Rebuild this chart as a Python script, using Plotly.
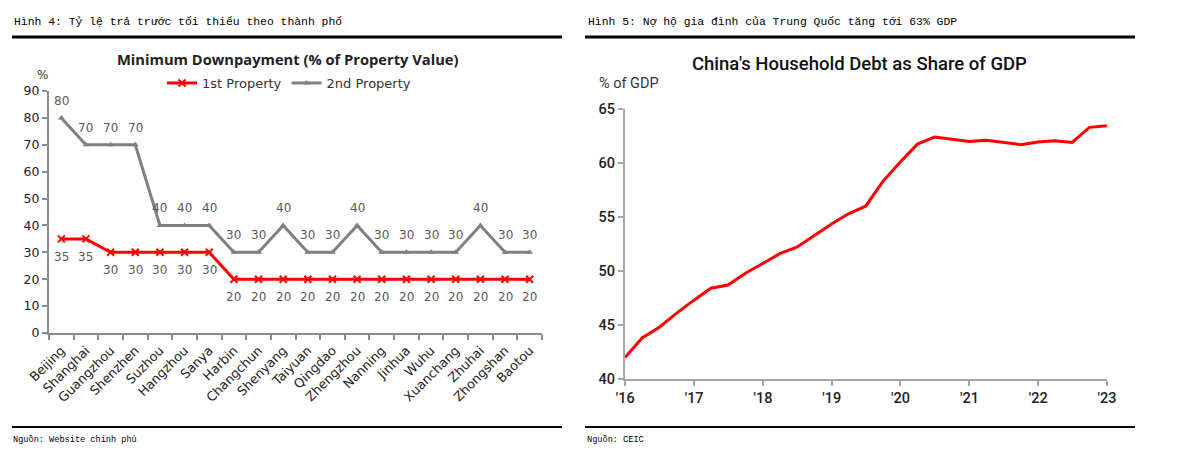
import unicodedata
import plotly.graph_objects as go

# ---------------- data ----------------
cities = ["Beijing", "Shanghai", "Guangzhou", "Shenzhen", "Suzhou", "Hangzhou", "Sanya",
          "Harbin", "Changchun", "Shenyang", "Taiyuan", "Qingdao", "Zhengzhou", "Nanning",
          "Jinhua", "Wuhu", "Xuanchang", "Zhuhai", "Zhongshan", "Baotou"]
first_property = [35, 35, 30, 30, 30, 30, 30, 20, 20, 20, 20, 20, 20, 20, 20, 20, 20, 20, 20, 20]
second_property = [80, 70, 70, 70, 40, 40, 40, 30, 30, 40, 30, 30, 40, 30, 30, 30, 30, 40, 30, 30]
left_yticks = [0, 10, 20, 30, 40, 50, 60, 70, 80, 90]

quarters = ["2015-12-31",
            "2016-03-31", "2016-06-30", "2016-09-30", "2016-12-31",
            "2017-03-31", "2017-06-30", "2017-09-30", "2017-12-31",
            "2018-03-31", "2018-06-30", "2018-09-30", "2018-12-31",
            "2019-03-31", "2019-06-30", "2019-09-30", "2019-12-31",
            "2020-03-31", "2020-06-30", "2020-09-30", "2020-12-31",
            "2021-03-31", "2021-06-30", "2021-09-30", "2021-12-31",
            "2022-03-31", "2022-06-30", "2022-09-30", "2022-12-31"]
household_debt = [42.0, 43.8, 44.8, 46.1, 47.3, 48.4, 48.7, 49.8, 50.7, 51.6, 52.2, 53.3,
                  54.35, 55.3, 56.0, 58.3, 60.1, 61.75, 62.4, 62.2, 62.0, 62.1, 61.9, 61.7,
                  61.95, 62.05, 61.9, 63.3, 63.45]
year_ticks = ["2016-01-01", "2017-01-01", "2018-01-01", "2019-01-01", "2020-01-01",
              "2021-01-01", "2022-01-01", "2023-01-01"]
year_labels = ["'16", "'17", "'18", "'19", "'20", "'21", "'22", "'23"]
right_yticks = [40, 45, 50, 55, 60, 65]

caption_left = unicodedata.normalize("NFC", "Hình 4: Tỷ lệ trả trước tối thiểu theo thành phố")
caption_right = unicodedata.normalize("NFC", "Hình 5: Nợ hộ gia đình của Trung Quốc tăng tới 63% GDP")
source_left = unicodedata.normalize("NFC", "Nguồn: Website chính phủ")
source_right = unicodedata.normalize("NFC", "Nguồn: CEIC")

# ---------------- layout helpers ----------------
W, H = 1178, 458
def px(x):
    return x / W
def py(y):
    return 1 - y / H

RED = "#FF0000"
GRAY = "#808080"
LBL = "#595959"
FONT = "DejaVu Sans"
MONO = "Liberation Mono"

fig = go.Figure()

fig.add_trace(go.Scatter(
    x=cities, y=first_property, name="1st Property", mode="lines+markers",
    line=dict(color=RED, width=3), marker=dict(symbol="x-thin", size=7,
    line=dict(color=RED, width=2)), xaxis="x", yaxis="y"))
fig.add_trace(go.Scatter(
    x=cities, y=second_property, name="2nd Property", mode="lines+markers",
    line=dict(color=GRAY, width=3), marker=dict(symbol="triangle-up", size=6, color=GRAY),
    xaxis="x", yaxis="y"))

fig.add_trace(go.Scatter(
    x=quarters, y=household_debt, mode="lines", showlegend=False,
    line=dict(color=RED, width=3), xaxis="x2", yaxis="y2"))

annotations = []
for c, v in zip(cities, first_property):
    annotations.append(dict(x=c, y=v, xref="x", yref="y", text=str(v), showarrow=False,
                            yshift=-18, font=dict(family=FONT, size=12, color=LBL)))
for c, v in zip(cities, second_property):
    annotations.append(dict(x=c, y=v, xref="x", yref="y", text=str(v), showarrow=False,
                            yshift=17, font=dict(family=FONT, size=12, color=LBL)))

# captions / titles / sources
annotations += [
    dict(x=px(12), y=py(22.5), xref="paper", yref="paper", xanchor="left", yanchor="middle",
         text=caption_left, showarrow=False,
         font=dict(family=MONO, size=11.4, color="#000")),
    dict(x=px(586), y=py(22.5), xref="paper", yref="paper", xanchor="left", yanchor="middle",
         text=caption_right, showarrow=False,
         font=dict(family=MONO, size=11.4, color="#000")),
    dict(x=px(11), y=py(440), xref="paper", yref="paper", xanchor="left", yanchor="middle",
         text=source_left, showarrow=False,
         font=dict(family=MONO, size=8.6, color="#000")),
    dict(x=px(585), y=py(440), xref="paper", yref="paper", xanchor="left", yanchor="middle",
         text=source_right, showarrow=False,
         font=dict(family=MONO, size=8.6, color="#000")),
    dict(x=px(287), y=py(59), xref="paper", yref="paper", xanchor="center", yanchor="middle",
         text="<b>Minimum Downpayment (% of Property Value)</b>", showarrow=False,
         font=dict(family="Open Sans", size=14.7, color="#222")),
    dict(x=px(42), y=py(75), xref="paper", yref="paper", xanchor="center", yanchor="middle",
         text="%", showarrow=False, font=dict(family=FONT, size=12, color="#333")),
    dict(x=px(859), y=py(64), xref="paper", yref="paper", xanchor="center", yanchor="middle",
         text="China's Household Debt as Share of GDP", showarrow=False,
         font=dict(family="Roboto", size=18.5, color="#111", weight=500)),
    dict(x=px(597), y=py(84), xref="paper", yref="paper", xanchor="left", yanchor="middle",
         text="% of GDP", showarrow=False, font=dict(family="Roboto", size=14.5, color="#333")),
]

shapes = [
    dict(type="line", xref="paper", yref="paper", x0=px(12), x1=px(562), y0=py(37), y1=py(37),
         line=dict(color="#000", width=3)),
    dict(type="line", xref="paper", yref="paper", x0=px(585), x1=px(1135), y0=py(37), y1=py(37),
         line=dict(color="#000", width=3)),
    dict(type="line", xref="paper", yref="paper", x0=px(12), x1=px(562), y0=py(427), y1=py(427),
         line=dict(color="#000", width=2)),
    dict(type="line", xref="paper", yref="paper", x0=px(585), x1=px(1135), y0=py(427), y1=py(427),
         line=dict(color="#000", width=2)),
]

fig.update_layout(
    width=W, height=H, margin=dict(l=0, r=0, t=0, b=0, autoexpand=False),
    paper_bgcolor="white", plot_bgcolor="white",
    showlegend=True,
    legend=dict(orientation="h", x=px(289), xanchor="center", y=py(83), yanchor="middle",
                font=dict(family=FONT, size=13, color="#333"), bgcolor="rgba(0,0,0,0)",
                itemwidth=30, tracegroupgap=0),
    xaxis=dict(domain=[px(49), px(542)], type="category", range=[-0.5, len(cities) - 0.5],
               showline=True, linecolor="#8C8C8C", linewidth=2, ticks="outside",
               tickson="boundaries", ticklen=5, tickcolor="#8C8C8C", tickwidth=1.5,
               tickangle=-45, showgrid=False, zeroline=False, automargin=False,
               ticklabelstandoff=3,
               tickfont=dict(family=FONT, size=12.8, color="#222"), anchor="y"),
    yaxis=dict(domain=[py(333), py(91)], range=[0, 90], tickvals=left_yticks,
               showline=True, linecolor="#8C8C8C", linewidth=2, ticks="outside", ticklen=5,
               tickcolor="#8C8C8C", tickwidth=1.5, showgrid=False, zeroline=False,
               automargin=False,
               tickfont=dict(family=FONT, size=12.5, color="#222"), anchor="x"),
    xaxis2=dict(domain=[px(625), px(1107)], type="date", range=["2015-12-31", "2023-01-01"],
                tickvals=year_ticks, ticktext=year_labels,
                showline=True, linecolor="#A6A6A6", linewidth=2, ticks="outside", ticklen=5,
                tickcolor="#A6A6A6", tickwidth=1.5, showgrid=False, zeroline=False,
                automargin=False,
                tickfont=dict(family="Roboto", size=14.5, color="#222", weight=500), anchor="y2"),
    yaxis2=dict(domain=[py(379), py(109)], range=[40, 65], tickvals=right_yticks,
                showline=True, linecolor="#A6A6A6", linewidth=2, ticks="outside", ticklen=5,
                tickcolor="#A6A6A6", tickwidth=1.5, showgrid=False, zeroline=False,
                automargin=False,
                tickfont=dict(family="Roboto", size=14.5, color="#222", weight=500), anchor="x2"),
    annotations=annotations, shapes=shapes,
)

fig.write_html("out.html", config={"displayModeBar": False},
               post_script="document.body.style.margin='0';")
